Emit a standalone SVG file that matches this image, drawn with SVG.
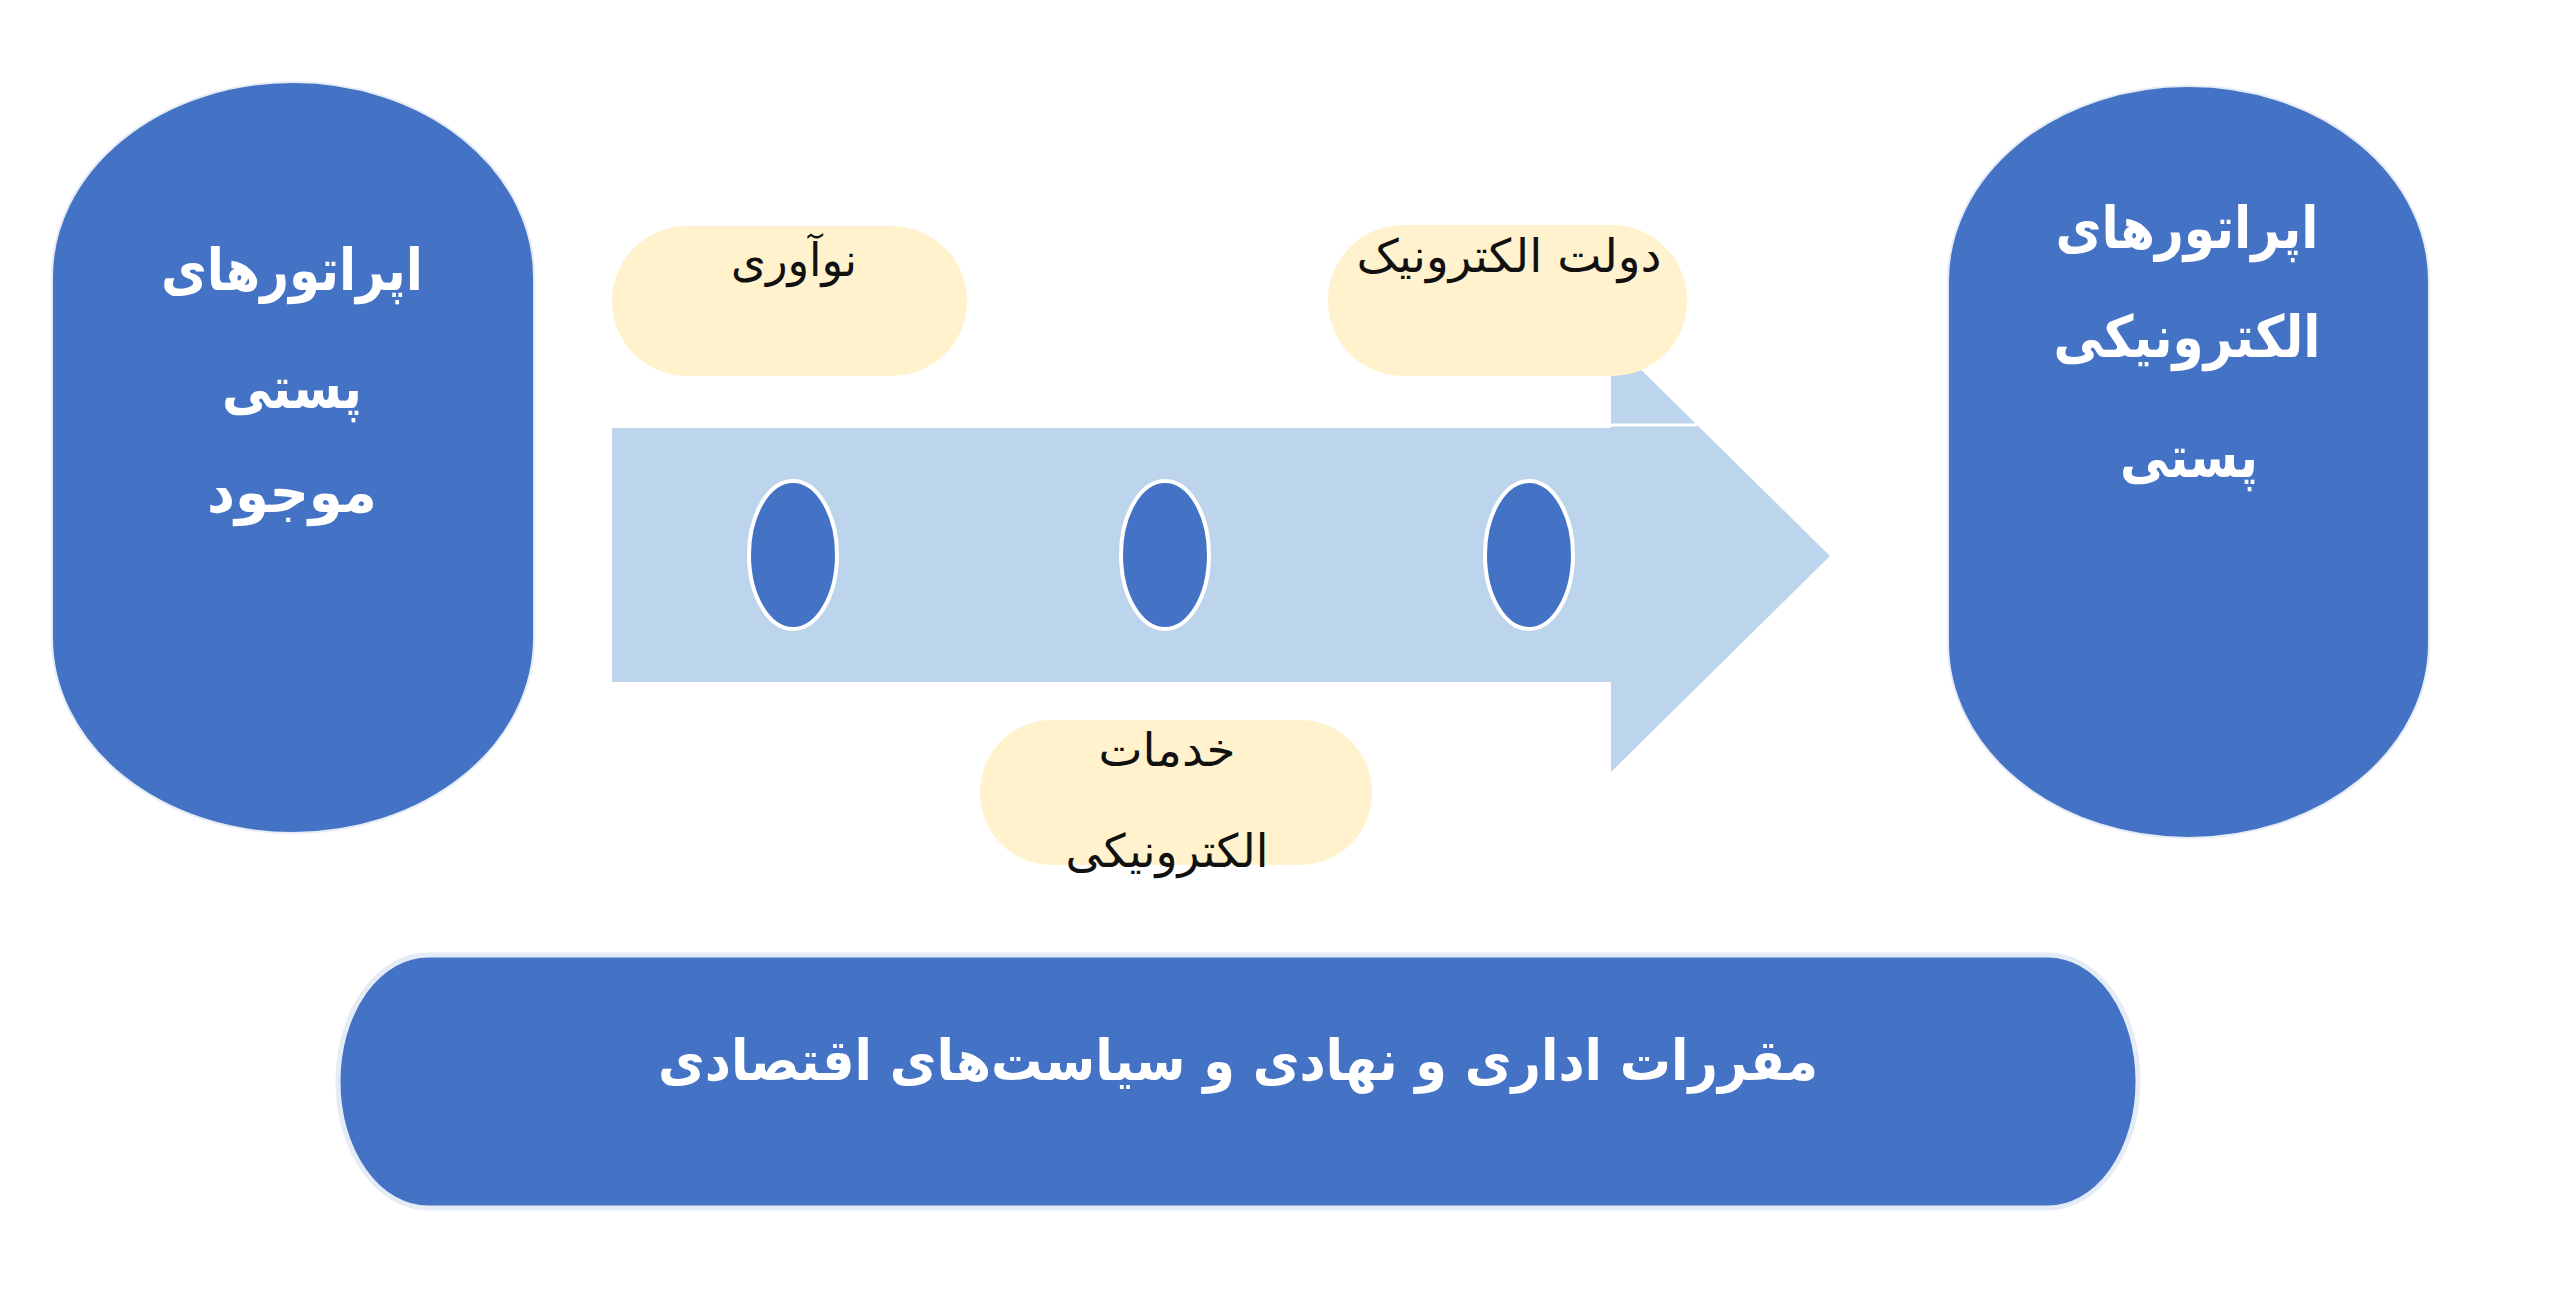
<svg xmlns="http://www.w3.org/2000/svg" width="2560" height="1309" viewBox="0 0 2560 1309">
<style>
.blue{fill:#4472C4}
.yel{fill:#FFF2CC}
.wt{font-family:"DejaVu Sans",sans-serif;font-weight:bold;fill:#FFFFFF;text-anchor:middle}
.bt{font-family:"DejaVu Sans",sans-serif;fill:#111111;text-anchor:middle}
</style>
<rect width="2560" height="1309" fill="#FFFFFF"/>
<g id="connectors">
<polygon points="612,428 1611,428 1611,340 1830,556 1611,772 1611,682 612,682" fill="#BDD5EC"/>
<line x1="1611" y1="425" x2="1697" y2="425" stroke="#FFFFFF" stroke-width="3"/>
<ellipse cx="793" cy="555" rx="44" ry="74" class="blue" stroke="#FFFFFF" stroke-width="4"/>
<ellipse cx="1165" cy="555" rx="44" ry="74" class="blue" stroke="#FFFFFF" stroke-width="4"/>
<ellipse cx="1529" cy="555" rx="44" ry="74" class="blue" stroke="#FFFFFF" stroke-width="4"/>
</g>
<g id="node-existing">
<rect x="52" y="82" width="482" height="751" rx="241" ry="195" class="blue" stroke="#E6ECF6" stroke-width="2"/>
<text class="wt" x="292" y="290" font-size="58" textLength="262" lengthAdjust="spacingAndGlyphs">اپراتورهای</text>
<text class="wt" x="292" y="408" font-size="58" textLength="140" lengthAdjust="spacingAndGlyphs">پستی</text>
<text class="wt" x="292" y="512" font-size="58" textLength="170" lengthAdjust="spacingAndGlyphs">موجود</text>
</g>
<g id="node-electronic">
<rect x="1948" y="86" width="481" height="752" rx="240" ry="195" class="blue" stroke="#E6ECF6" stroke-width="2"/>
<text class="wt" x="2187" y="248" font-size="58" textLength="263" lengthAdjust="spacingAndGlyphs">اپراتورهای</text>
<text class="wt" x="2187" y="357" font-size="58" textLength="267" lengthAdjust="spacingAndGlyphs">الکترونیکی</text>
<text class="wt" x="2189" y="477" font-size="58" textLength="138" lengthAdjust="spacingAndGlyphs">پستی</text>
</g>
<g id="node-innovation">
<rect x="612" y="226" width="355" height="150" rx="75" ry="75" class="yel"/>
<text class="bt" x="794" y="276" font-size="46" textLength="126" lengthAdjust="spacingAndGlyphs">نوآوری</text>
</g>
<g id="node-egov">
<rect x="1328" y="225" width="359" height="151" rx="75" ry="75" class="yel"/>
<text class="bt" x="1509" y="272" font-size="46" textLength="305" lengthAdjust="spacingAndGlyphs">دولت الکترونیک</text>
</g>
<g id="node-eservices">
<rect x="980" y="720" width="392" height="145" rx="72" ry="72" class="yel"/>
<text class="bt" x="1167" y="766" font-size="46" textLength="137" lengthAdjust="spacingAndGlyphs">خدمات</text>
<text class="bt" x="1167" y="867" font-size="46" textLength="203" lengthAdjust="spacingAndGlyphs">الکترونیکی</text>
</g>
<g id="node-regulations">
<rect x="338" y="955" width="1800" height="253" rx="90" ry="126" class="blue" stroke="#E6ECF6" stroke-width="5"/>
<text class="wt" x="1238" y="1080" font-size="56" textLength="1160" lengthAdjust="spacingAndGlyphs">مقررات اداری و نهادی و سیاست‌های اقتصادی</text>
</g>
</svg>
